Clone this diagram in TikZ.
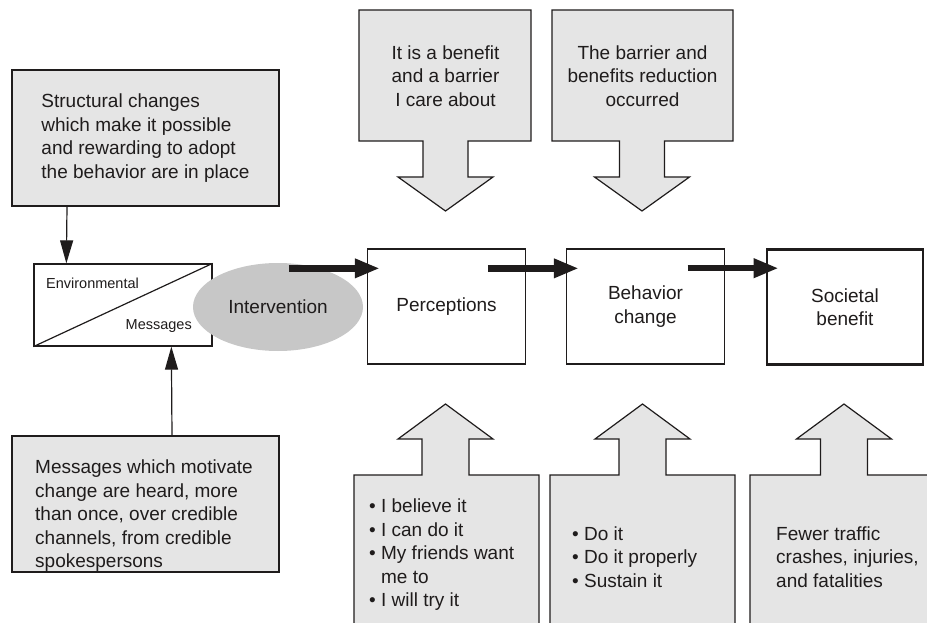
\documentclass[tikz,border=0pt]{standalone}
\usepackage{fontspec}
\setmainfont{Liberation Sans}
\usepackage{tikz}
\usetikzlibrary{shapes.geometric,arrows.meta}
\definecolor{boxgray}{rgb}{0.9, 0.9, 0.9}
\definecolor{ovalgray}{rgb}{0.78, 0.78, 0.78}
\definecolor{ink}{rgb}{0.12, 0.11, 0.11}
\tikzstyle{note}=[font=\fontsize{19}{23.5}\selectfont, text=ink, align=left, inner sep=0pt]
\tikzstyle{note_c}=[note, align=center]
\tikzstyle{small_note}=[note, font=\fontsize{14.5}{17}\selectfont]
\tikzstyle{grey_box}=[rectangle, draw=ink, line width=1.2pt, fill=boxgray]
\tikzstyle{stage}=[rectangle, draw=ink, line width=1.3pt, fill=white, minimum width=158, minimum height=115, note_c]
\tikzstyle{callout}=[draw=ink, line width=1.2pt, fill=boxgray]
\tikzstyle{thin_arrow}=[draw=ink, line width=1.2pt, -{Triangle[length=23pt, width=13pt]}]
\tikzstyle{fat_arrow}=[draw=ink, line width=6.5pt, -{Triangle[length=25pt, width=18pt]}]

\begin{document}
\begin{tikzpicture}[x=1pt, y=-1pt]
    \useasboundingbox (0,0) rectangle (927,623);

    % grey boxes on the left
    \node[grey_box, note, minimum width=267, minimum height=136] (structural) at (145.5,138)
        {Structural changes\\which make it possible\\and rewarding to adopt\\the behavior are in place};
    \node[grey_box, minimum width=267, minimum height=136] (messages) at (145.5,504) {};
    \node[note, anchor=west] (messages_txt) at (35,516)
        {Messages which motivate\\change are heard, more\\than once, over credible\\channels, from credible\\spokespersons};

    % split box
    \node[draw=ink, line width=1.3pt, fill=white, minimum width=178, minimum height=82] (env) at (123,305) {};
    \draw[draw=ink, line width=1.2pt] (env.south west) -- (env.north east);
    \node[small_note, anchor=west] (env_txt) at (46,283) {Environmental};
    \node[small_note, anchor=east] (msg_txt) at (192,326) {Messages};
    \draw[thin_arrow] ([xshift=-78.5]structural.south) -- ([xshift=33]env.north west);
    \draw[thin_arrow] ([xshift=26.5]messages.north) -- ([xshift=138]env.south west);

    % the chain
    \node[ellipse, fill=ovalgray, minimum width=170, minimum height=88, note_c] (interv) at (278,307) {Intervention};
    \node[stage] (perc) at (446.5,306.5) {Perceptions};
    \node[stage] (behav) at (645.5,306.5) {Behavior\\change};
    \node[stage, line width=2.6pt, minimum width=156] (soc) at (845,307) {Societal\\benefit};
    \foreach \b in {perc, behav, soc}
    \draw[fat_arrow] ([xshift=-78, yshift=-20]\b.north west) -- ([xshift=13, yshift=-20]\b.north west);

    % arrows pointing down
    \foreach \l/\r/\c in {359/531/445.5, 552/733/642}
    \draw[callout] (\l,10) -- (\r,10) -- (\r,141) -- (\c+22.5,141) -- (\c+22.5,177) -- (\c+47.5,177)
        -- (\c,211) -- (\c-47.5,177) -- (\c-22.5,177) -- (\c-22.5,141) -- (\l,141) -- cycle;
    \node[note_c] (care) at (445.5,76) {It is a benefit\\and a barrier\\I care about};
    \node[note_c] (occurred) at (642.5,76) {The barrier and\\benefits reduction\\occurred};

    % arrows pointing up
    \foreach \l/\r/\c in {354/539/445.5, 550/735/642.5, 750/935/844}
    \draw[callout] (\l,640) -- (\l,475) -- (\c-23.5,475) -- (\c-23.5,439) -- (\c-47.5,439) -- (\c,404)
        -- (\c+47.5,439) -- (\c+23.5,439) -- (\c+23.5,475) -- (\r,475) -- (\r,640);
    \node[note, anchor=west] (believe) at (369,555)
        {\textbullet\ I believe it\\\textbullet\ I can do it\\\textbullet\ My friends want\\\phantom{\textbullet\ }me to\\\textbullet\ I will try it};
    \node[note, anchor=west] (doit) at (572,557) {\textbullet\ Do it\\\textbullet\ Do it properly\\\textbullet\ Sustain it};
    \node[note, anchor=west] (fewer) at (776,557) {Fewer traffic\\crashes, injuries,\\and fatalities};
\end{tikzpicture}
\end{document}
